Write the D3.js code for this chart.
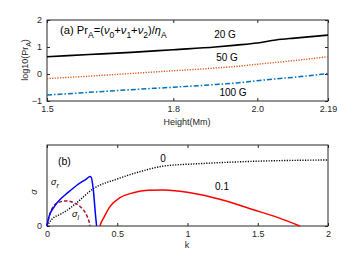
<!DOCTYPE html>
<html>
<head>
<meta charset="utf-8">
<script src="https://cdn.jsdelivr.net/npm/d3@7"></script>
<style>
  body { margin: 0; background: #fff; }
  svg { font-family: "Liberation Sans", Arial, sans-serif; }
  .tick text { fill: #262626; font-size: 9px; }
  .tick line { stroke: #262626; }
  .domain { stroke: none; }
</style>
</head>
<body>
<div id="chart"></div>
<script>
// panel (a): log10(Pr_A) vs height
var heights = [1.5, 1.6, 1.7, 1.8, 1.9, 1.95, 2.0, 2.05, 2.1, 2.19];
var pr20G  = [0.64, 0.72, 0.80, 0.90, 1.00, 1.07, 1.15, 1.26, 1.33, 1.44];
var pr50G  = [-0.17, -0.08, 0.02, 0.12, 0.22, 0.28, 0.36, 0.43, 0.50, 0.64];
var pr100G = [-0.78, -0.68, -0.58, -0.49, -0.39, -0.33, -0.25, -0.18, -0.12, 0.02];
var heightTicks = [1.5, 1.8, 2.0, 2.19];
var prTicks = [-1, 0, 1, 2];

// panel (b): growth rate vs k
var kR = [0, 0.01, 0.021, 0.045, 0.069, 0.1, 0.14, 0.21, 0.28, 0.306, 0.315, 0.33, 0.346, 0.353];
var sigmaR = [0, 0.09, 0.15, 0.22, 0.28, 0.34, 0.40, 0.50, 0.58, 0.61, 0.60, 0.44, 0.12, 0];
var kI = [0, 0.02, 0.045, 0.08, 0.14, 0.2, 0.235, 0.28, 0.3, 0.306];
var sigmaI = [0, 0.14, 0.24, 0.29, 0.31, 0.28, 0.24, 0.14, 0.05, 0];
var k0 = [0, 0.033, 0.1, 0.14, 0.2, 0.33, 0.5, 0.66, 0.83, 1.09, 1.33, 1.6, 2];
var sigma0 = [0, 0.08, 0.15, 0.19, 0.27, 0.46, 0.58, 0.67, 0.74, 0.77, 0.79, 0.805, 0.815];
var k01 = [0.377, 0.385, 0.40, 0.448, 0.52, 0.614, 0.72, 0.83, 1.02, 1.23, 1.47, 1.65, 1.8];
var sigma01 = [0, 0.04, 0.09, 0.24, 0.35, 0.41, 0.44, 0.445, 0.41, 0.33, 0.2, 0.1, 0];
var kTicks = [0, 0.5, 1, 1.5, 2];

var svg = d3.select("#chart").append("svg").attr("width", 362).attr("height", 264);
svg.append("rect").attr("width", 362).attr("height", 264).attr("fill", "#fff");

var left = 47, right = 328;

function zip(xs, ys) { return xs.map(function (x, i) { return [x, ys[i]]; }); }

function frame(g, x, y, xt, yt, fmt, top, bottom) {
  g.append("g").attr("class", "x axis").attr("transform", "translate(0," + bottom + ")")
    .call(d3.axisBottom(x).tickValues(xt).tickFormat(fmt).tickSizeInner(-3).tickSizeOuter(0).tickPadding(5));
  g.append("g").attr("transform", "translate(0," + top + ")")
    .call(d3.axisTop(x).tickValues(xt).tickFormat("").tickSizeInner(-3).tickSizeOuter(0));
  g.append("g").attr("transform", "translate(" + left + ",0)")
    .call(d3.axisLeft(y).tickValues(yt).tickFormat(d3.format("d")).tickSizeInner(-3).tickSizeOuter(0).tickPadding(5));
  g.append("g").attr("transform", "translate(" + right + ",0)")
    .call(d3.axisRight(y).tickValues(yt).tickFormat("").tickSizeInner(-3).tickSizeOuter(0));
  g.append("rect").attr("x", left).attr("y", top).attr("width", right - left).attr("height", bottom - top)
    .attr("fill", "none").attr("stroke", "#262626").attr("stroke-width", 1);
}

// ---------- panel (a)
var topA = 20, botA = 101;
var xA = d3.scaleLinear().domain(heightTicks).range([left, 173.3, 257.3, right]);
var yA = d3.scaleLinear().domain([-1, 2]).range([botA, topA]);
var gA = svg.append("g");
frame(gA, xA, yA, heightTicks, prTicks, function (d) { return d === 2.19 ? "2.19" : d3.format(".1f")(d); }, topA, botA);

var lineA = d3.line().x(function (d) { return xA(d[0]); }).y(function (d) { return yA(d[1]); }).curve(d3.curveMonotoneX);
gA.append("path").datum(zip(heights, pr20G)).attr("d", lineA)
  .attr("fill", "none").attr("stroke", "#000").attr("stroke-width", 1.6);
gA.append("path").datum(zip(heights, pr50G)).attr("d", lineA)
  .attr("fill", "none").attr("stroke", "#D95319").attr("stroke-width", 1.4).attr("stroke-dasharray", "1.2,1.4");
gA.append("path").datum(zip(heights, pr100G)).attr("d", lineA)
  .attr("fill", "none").attr("stroke", "#0072BD").attr("stroke-width", 1.5).attr("stroke-dasharray", "5,2,1.5,2");

var title = gA.append("text").attr("x", 60).attr("y", 34).attr("font-size", 11.2).attr("fill", "#000");
[["(a) Pr", 0, 0], ["A", 1, 0], ["=(", 0, 0], ["\u03BD", 0, 1], ["0", 1, 0], ["+", 0, 0], ["\u03BD", 0, 1], ["1", 1, 0],
 ["+", 0, 0], ["\u03BD", 0, 1], ["2", 1, 0], [")/", 0, 0], ["\u03B7", 0, 1], ["A", 1, 0]].forEach(function (p, i, arr) {
  var prevSub = i > 0 && arr[i - 1][1];
  var dy = p[1] && !prevSub ? 4 : (!p[1] && prevSub ? -4 : 0);
  title.append("tspan").attr("dy", dy).attr("font-size", p[1] ? 8.5 : 11.2)
    .attr("font-style", p[2] ? "italic" : null).text(p[0]);
});

gA.append("text").attr("x", 225).attr("y", 38).attr("text-anchor", "middle").attr("font-size", 10).text("20 G");
gA.append("text").attr("x", 227).attr("y", 61).attr("text-anchor", "middle").attr("font-size", 10).text("50 G");
gA.append("text").attr("x", 233).attr("y", 96).attr("text-anchor", "middle").attr("font-size", 10).text("100 G");

var yl = gA.append("text").attr("transform", "translate(28,60) rotate(-90)").attr("text-anchor", "middle")
  .attr("font-size", 9).attr("fill", "#262626");
yl.append("tspan").text("log10(Pr");
yl.append("tspan").attr("font-size", 7).attr("dy", 3).text("A");
yl.append("tspan").attr("dy", -3).text(")");
gA.append("text").attr("x", 187).attr("y", 125).attr("text-anchor", "middle").attr("font-size", 9)
  .attr("fill", "#262626").text("Height(Mm)");

// ---------- panel (b)
var topB = 145, botB = 226;
var xB = d3.scaleLinear().domain([0, 2]).range([left, right]);
var yB = d3.scaleLinear().domain([0, 1]).range([botB, topB]);
var gB = svg.append("g");
frame(gB, xB, yB, kTicks, [0], d3.format("~g"), topB, botB);

var lineB = d3.line().x(function (d) { return xB(d[0]); }).y(function (d) { return yB(d[1]); }).curve(d3.curveMonotoneX);
gB.append("path").datum(zip(k0, sigma0)).attr("d", lineB)
  .attr("fill", "none").attr("stroke", "#000").attr("stroke-width", 1.4).attr("stroke-dasharray", "1.2,1.4");
gB.append("path").datum(zip(kI, sigmaI)).attr("d", lineB)
  .attr("fill", "none").attr("stroke", "#A2142F").attr("stroke-width", 1.5).attr("stroke-dasharray", "3.5,2");
gB.append("path").datum(zip(kR, sigmaR)).attr("d", lineB)
  .attr("fill", "none").attr("stroke", "#0000FF").attr("stroke-width", 1.5);
gB.append("path").datum(zip(k01, sigma01)).attr("d", lineB)
  .attr("fill", "none").attr("stroke", "#FF0000").attr("stroke-width", 1.5);

gB.append("text").attr("x", 58).attr("y", 165).attr("font-size", 10.5).text("(b)");
gB.append("text").attr("x", 163).attr("y", 162).attr("text-anchor", "middle").attr("font-size", 10).text("0");
gB.append("text").attr("x", 222).attr("y", 190).attr("text-anchor", "middle").attr("font-size", 10).text("0.1");
var sr = gB.append("text").attr("x", 51).attr("y", 185).attr("font-size", 9).attr("font-style", "italic");
sr.append("tspan").text("\u03C3");
sr.append("tspan").attr("font-size", 7).attr("dy", 3).text("r");
var si = gB.append("text").attr("x", 72).attr("y", 217).attr("font-size", 9).attr("font-style", "italic");
si.append("tspan").text("\u03C3");
si.append("tspan").attr("font-size", 7).attr("dy", 3).text("i");

gB.append("text").attr("transform", "translate(37,192) rotate(-90)").attr("text-anchor", "middle")
  .attr("font-size", 9).attr("font-style", "italic").attr("fill", "#262626").text("\u03C3");
gB.append("text").attr("x", 187).attr("y", 248).attr("text-anchor", "middle").attr("font-size", 9)
  .attr("fill", "#262626").text("k");
</script>
</body>
</html>
